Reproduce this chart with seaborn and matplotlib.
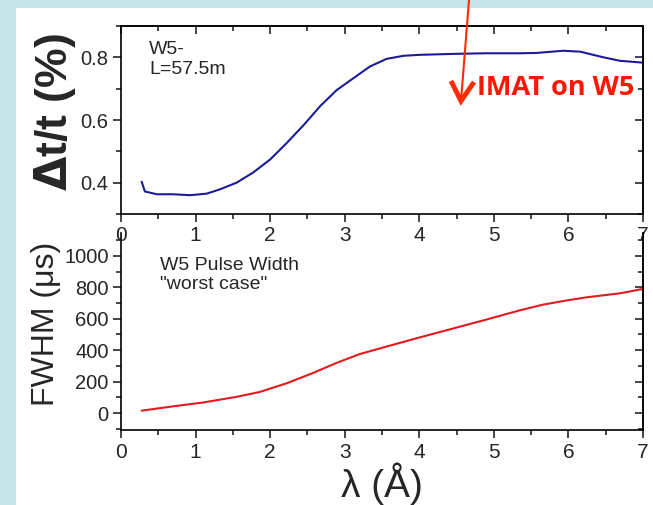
import matplotlib
matplotlib.use("Agg")
import matplotlib.pyplot as plt
from matplotlib.lines import Line2D
from matplotlib.patches import Rectangle
from matplotlib.ticker import MultipleLocator
import pandas as pd
import seaborn as sns

# Time resolution Δt/t (%) versus wavelength for W5, L = 57.5 m
lam_res = [0.277, 0.32, 0.48, 0.70, 0.925, 1.15, 1.33, 1.55, 1.77, 2.00, 2.22, 2.45, 2.67, 2.89,
           3.12, 3.34, 3.56, 3.79, 4.01, 4.46, 4.90, 5.35, 5.57, 5.93, 6.16, 6.47, 6.69, 7.00]
dt_over_t = [0.403, 0.372, 0.363, 0.363, 0.360, 0.365, 0.379, 0.400, 0.432, 0.474, 0.526, 0.584,
             0.644, 0.695, 0.734, 0.771, 0.795, 0.805, 0.808, 0.811, 0.813, 0.813, 0.814, 0.821,
             0.818, 0.800, 0.789, 0.783]

# W5 pulse width (FWHM, µs) versus wavelength, "worst case"
lam_fwhm = [0.277, 0.657, 1.10, 1.55, 1.86, 2.22, 2.58, 2.89, 3.20, 3.56, 4.01, 4.46, 4.90,
            5.35, 5.66, 5.98, 6.25, 6.69, 7.00]
fwhm_us = [15, 40, 67, 103, 134, 189, 256, 319, 375, 423, 482, 539, 595, 654, 690, 717, 737,
           762, 790]

x_ticks = [0, 1, 2, 3, 4, 5, 6, 7]

sns.set_style("ticks")
plt.rcParams["font.family"] = ["Liberation Sans", "DejaVu Sans"]

W, H = 653, 505
fig = plt.figure(figsize=(W / 100, H / 100), dpi=100, facecolor="#c5e5e8")
fig.patches.append(Rectangle((16 / W, 0), 1 - 16 / W, 1 - 8 / H, transform=fig.transFigure,
                             facecolor="white", edgecolor="none", zorder=-10))

ax1 = fig.add_axes([121 / W, 1 - 214 / H, 522 / W, 188 / H])
ax2 = fig.add_axes([121 / W, 1 - 430 / H, 522 / W, 197 / H])
for ax in (ax1, ax2):
    ax.set_facecolor("none")
    ax.set_zorder(2)

df_res = pd.DataFrame({"lam": lam_res, "res": dt_over_t})
df_fw = pd.DataFrame({"lam": lam_fwhm, "fwhm": fwhm_us})

sns.lineplot(data=df_res, x="lam", y="res", ax=ax1, color="#1c1c96", lw=1.5)
sns.lineplot(data=df_fw, x="lam", y="fwhm", ax=ax2, color="#e41a1c", lw=1.5)

# top panel axes
ax1.set_xlim(0, 7)
ax1.set_xticks(x_ticks)
ax1.xaxis.set_minor_locator(MultipleLocator(0.5))
ax1.set_yticks([0.4, 0.6, 0.8])
ax1.set_yticklabels(["0.4", "0.6", "0.8"])
ax1.yaxis.set_minor_locator(MultipleLocator(0.1))
ax1.set_xlabel("")
ax1.set_ylabel(r"$\mathbf{\Delta}$t/t (%)", fontsize=32, fontweight="bold")
ax1.yaxis.set_label_coords(-0.082, 0.54)

# bottom panel axes
ax2.set_xlim(0, 7)
ax2.set_xticks(x_ticks)
ax2.xaxis.set_minor_locator(MultipleLocator(0.5))
ax2.set_yticks([0, 200, 400, 600, 800, 1000])
ax2.yaxis.set_minor_locator(MultipleLocator(100))
ax2.set_ylabel("FWHM (μs)", fontsize=23)
ax2.yaxis.set_label_coords(-0.115, 0.54)
ax2.set_xlabel("λ (Å)", fontsize=28, labelpad=1)
ax2.spines["top"].set_visible(False)

for ax in (ax1, ax2):
    for s in ax.spines.values():
        s.set_linewidth(1.2)
        s.set_color("black")
    ax.tick_params(axis="x", which="major", direction="out", length=6, width=1.2,
                   labelsize=15, pad=3, top=False)
    ax.tick_params(axis="x", which="minor", direction="out", length=3.5, width=1.2, top=False)
    ax.tick_params(axis="y", which="major", direction="out", length=6, width=1.2,
                   labelsize=14.5, pad=3)
    ax.tick_params(axis="y", which="minor", direction="out", length=3.5, width=1.2)

ax1.set_ylim(0.3, 0.9)
ax2.set_ylim(-108, 1146)

# mirrored inward ticks on the right (and along the top of the upper panel)
for ax, step in ((ax1, 0.1), (ax2, 100)):
    sec = ax.secondary_yaxis("right")
    sec.set_yticks(ax.get_yticks())
    sec.yaxis.set_minor_locator(MultipleLocator(step))
    sec.tick_params(which="major", direction="in", length=6, width=1.2, labelright=False)
    sec.tick_params(which="minor", direction="in", length=3.5, width=1.2)
    sec.spines["right"].set_linewidth(1.2)
secx = ax1.secondary_xaxis("top")
secx.set_xticks(x_ticks)
secx.xaxis.set_minor_locator(MultipleLocator(0.5))
secx.tick_params(which="major", direction="in", length=6, width=1.2, labeltop=False)
secx.tick_params(which="minor", direction="in", length=3.5, width=1.2)
secx.spines["top"].set_linewidth(1.2)

ax1.text(0.054, 0.92, "W5-\nL=57.5m", transform=ax1.transAxes, fontsize=14,
         va="top", ha="left", linespacing=1.2)
ax2.text(0.075, 0.88, "W5 Pulse Width\n\"worst case\"", transform=ax2.transAxes, fontsize=14,
         va="top", ha="left", linespacing=1.2)

# highlighted label with pointer
fig.text(477 / W, 1 - 88 / H, "IMAT on W5", color="#ff1500", fontsize=19.5,
         fontweight="bold", family=["Open Sans", "DejaVu Sans"], va="center", ha="left",
         zorder=5)
fig.add_artist(Line2D([469 / W, 461 / W], [1.0, 1 - 101 / H], transform=fig.transFigure,
                      color="#ff2a00", lw=1.5, zorder=5))
fig.add_artist(Line2D([451 / W, 461 / W, 474 / W], [1 - 81 / H, 1 - 101 / H, 1 - 82 / H],
                      transform=fig.transFigure, color="#ff2a00", lw=3.5,
                      solid_joinstyle="miter", solid_capstyle="butt", zorder=5))

fig.savefig("out.png", dpi=100, facecolor=fig.get_facecolor())
